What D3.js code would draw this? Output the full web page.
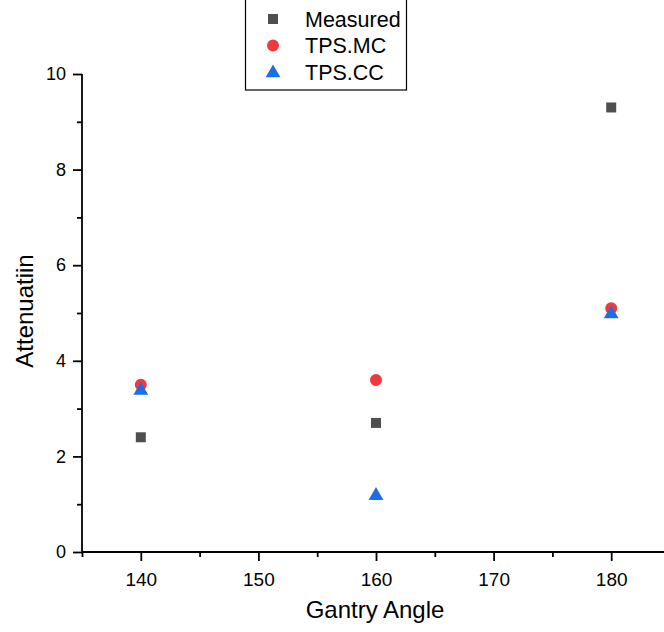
<!DOCTYPE html>
<html>
<head>
<meta charset="utf-8">
<script src="https://cdn.jsdelivr.net/npm/d3@7"></script>
<style>
  body { margin: 0; background: #fff; }
  svg { display: block; font-family: "Liberation Sans", Arial, sans-serif; }
  .axis path, .axis line { stroke: #000; stroke-width: 1.8; }
  .axis text { fill: #000; }
</style>
</head>
<body>
<svg id="chart"></svg>
<script>
// Gantry angles and attenuation values
const angles = [140, 160, 180];
const measured = [2.4, 2.7, 9.3];
const tpsMC = [3.5, 3.6, 5.1];
const tpsCC = [3.4, 1.2, 5.0];
const xTicks = [140, 150, 160, 170, 180];
const xMinor = [135, 145, 155, 165, 175];
const yTicks = [0, 2, 4, 6, 8, 10];
const yMinor = [1, 3, 5, 7, 9];

const series = [
  { name: "Measured", values: measured, color: "#4f4f4f", shape: "square" },
  { name: "TPS.MC", values: tpsMC, color: "#f0393f", shape: "circle" },
  { name: "TPS.CC", values: tpsCC, color: "#1c6fe0", shape: "triangle" }
];

const width = 664, height = 632;
const margin = { top: 74, right: -6, bottom: 80, left: 82 };
const innerW = width - margin.left - margin.right;
const innerH = height - margin.top - margin.bottom;

const svg = d3.select("#chart").attr("width", width).attr("height", height);
const g = svg.append("g").attr("transform", `translate(${margin.left},${margin.top})`);

const x = d3.scaleLinear().domain([135, 185]).range([0, innerW]);
const y = d3.scaleLinear().domain([0, 10]).range([innerH, 0]);

// minor ticks first
g.append("g").attr("class", "axis")
  .attr("transform", `translate(0,${innerH})`)
  .call(d3.axisBottom(x).tickValues(xMinor).tickSize(5).tickFormat("").tickSizeOuter(0))
  .select(".domain").remove();
g.append("g").attr("class", "axis")
  .call(d3.axisLeft(y).tickValues(yMinor).tickSize(5).tickFormat("").tickSizeOuter(0))
  .select(".domain").remove();

// major axes
const xAxisG = g.append("g").attr("class", "axis")
  .attr("transform", `translate(0,${innerH})`)
  .call(d3.axisBottom(x).tickValues(xTicks).tickSize(9).tickSizeOuter(0).tickPadding(7));
xAxisG.select(".domain").attr("d", `M0,0H${innerW}`);
xAxisG.selectAll("text").attr("font-size", 19).attr("dy", "0.95em");

const yAxisG = g.append("g").attr("class", "axis")
  .call(d3.axisLeft(y).tickValues(yTicks).tickSize(9).tickSizeOuter(0).tickPadding(7));
yAxisG.select(".domain").attr("d", `M0,0V${innerH}`);
yAxisG.selectAll("text").attr("font-size", 18);

// axis titles
svg.append("text")
  .attr("x", 375).attr("y", 618)
  .attr("text-anchor", "middle")
  .attr("font-size", 24)
  .text("Gantry Angle");

svg.append("text")
  .attr("transform", `translate(33,311) rotate(-90)`)
  .attr("text-anchor", "middle")
  .attr("font-size", 24)
  .text("Attenuatiin");

const symbolFor = {
  square: d3.symbol().type(d3.symbolSquare).size(100),
  circle: d3.symbol().type(d3.symbolCircle).size(113),
  triangle: d3.symbol().type(d3.symbolTriangle).size(95)
};

// points
series.forEach(s => {
  g.append("g").selectAll("path")
    .data(angles.map((a, i) => ({ a, v: s.values[i] })))
    .join("path")
    .attr("d", symbolFor[s.shape]())
    .attr("transform", d => `translate(${x(d.a)},${y(d.v) + (s.shape === "triangle" ? 1 : 0)})`)
    .attr("fill", s.color);
});

// legend
const legend = svg.append("g");
legend.append("rect")
  .attr("x", 245.5).attr("y", -1)
  .attr("width", 161).attr("height", 91)
  .attr("fill", "#fff").attr("stroke", "#000").attr("stroke-width", 1.2);

series.forEach((s, i) => {
  const cy = 19 + i * 26.5;
  legend.append("path")
    .attr("d", symbolFor[s.shape]())
    .attr("transform", `translate(273,${cy + (s.shape === "triangle" ? 1 : 0)})`)
    .attr("fill", s.color);
  legend.append("text")
    .attr("x", 305).attr("y", cy)
    .attr("dy", "0.36em")
    .attr("font-size", 21.5)
    .text(s.name);
});
</script>
</body>
</html>
